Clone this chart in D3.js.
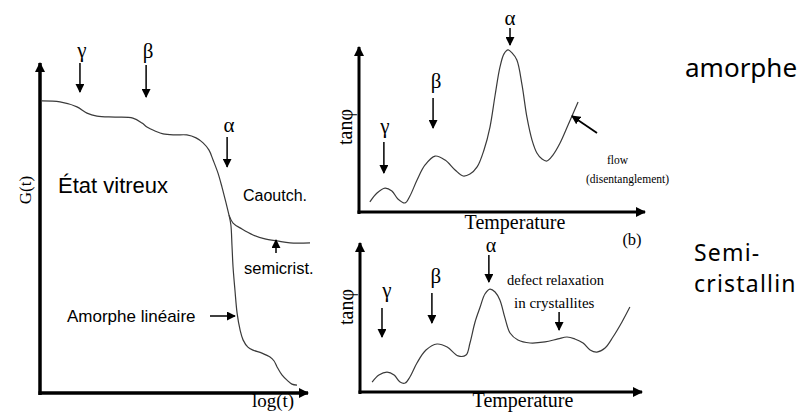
<!DOCTYPE html>
<html><head><meta charset="utf-8">
<script src="https://cdn.jsdelivr.net/npm/d3@7"></script>
<style>
html,body{margin:0;padding:0;background:#fff;}
svg{display:block;}
.sans{font-family:"Liberation Sans",Arial,sans-serif;}
.serif{font-family:"Liberation Serif","Times New Roman",serif;}
.comic{font-family:"Comic Sans MS","Noto Sans",sans-serif;}
</style></head>
<body>
<svg id="c" width="804" height="412"></svg>
<script>
// ---------- DATA (arbitrary units 0..100) ----------
// Left panel: G(t) vs log(t)
const glassyLogT   = [0.7,7.4,13.7,17.4,21.1,27.8,34.4,37.8,39.6,42.6,45.6,50,54.4,57.8,60.4,62.6,64.1,65.9,67.4,68.9,70];
const glassyG      = [88.5,88.2,86.7,84.8,83.9,83.6,83.3,81.8,80.6,79.4,78.5,78.2,78.2,77.3,75.8,73.6,70.6,66.7,62.4,57.6,53.9];
const semicristLogT = [70,71.5,74.8,78.9,83.3,87.8,92.6,100];
const semicristG    = [53.9,51.5,49.7,47.9,46.7,46.1,45.5,45.5];
const amorpheLogT  = [70,70.7,71.1,71.5,72.2,73,74.1,75.2,77,78.9,82.2,85.2,86.7,87.8,89.6,91.5,93.3,95.2];
const amorpheG     = [53.9,50.9,44.8,38.2,31.2,24.2,19.1,16.1,13.9,13,12.1,10.9,9.7,7.9,5.5,3.9,2.7,2.4];
// Top right panel: tan(phi) vs temperature, amorphous
const amorTemp = [3.8,6.3,9.1,11.5,13.6,16.1,17.8,20.3,23.1,26.6,30.1,33.6,36.4,38.8,41.3,43.7,45.8,47.6,49.3,50.7,52.1,53.5,55.2,57,58.7,60.5,62.2,64,65.7,67.8,70.3,73.1,76.6];
const amorTan  = [6.1,11.5,14.5,12.7,7.9,5.5,9.7,19.4,28.5,33.9,31.5,25.5,21.8,23,27.3,37.6,51.5,70.9,87.9,95.8,98.2,96.4,92.1,77,57.6,43.6,35.8,32.1,30.9,34.5,41.8,52.7,66.7];
// Bottom right panel: tan(phi) vs temperature, semi-crystalline
const semiTemp = [4.3,6.7,9.6,12.1,14.2,16,17.7,20.2,23.4,27.3,30.9,34.8,37.6,39,40.8,42.6,44.3,46.1,47.9,49.6,51.4,53.2,56,60.3,65.6,70.2,73.4,76.2,79.1,81.6,84,86.9,89.7,92.9,95.7];
const semiTan  = [6.7,11.4,13.4,11.4,6.7,6,10.1,19.5,28.2,32.2,30.2,24.2,24.8,32.9,47,57,65.8,69.1,67.1,61.7,49.7,39.6,34.9,32.9,33.6,35.6,36.9,35.6,32.9,28.2,26.8,29.5,36.9,47,57];
// Relaxation labels and where they sit on each x axis
const relaxLabels   = ["γ","β","α"];
const leftRelaxX    = [14.8,39.3,69.3];
const amorRelaxX    = [8.7,25.9,52.8];
const semiRelaxX    = [7.8,25.5,45.7];
const defectX       = [70.6];

// ---------- DRAWING ----------
const svg = d3.select("#c");
const defs = svg.append("defs");
function marker(id, w, h){
  defs.append("marker").attr("id",id).attr("viewBox","0 0 10 10").attr("refX",9).attr("refY",5)
    .attr("markerWidth",w).attr("markerHeight",h).attr("markerUnits","userSpaceOnUse").attr("orient","auto")
    .append("path").attr("d","M0,0L10,5L0,10z").attr("fill","#000");
}
marker("axhead",11,10);
marker("head",9,9);

const line = d3.line().curve(d3.curveCatmullRom.alpha(0.5));
const zip = (xs,ys,sx,sy)=>xs.map((v,i)=>[sx(v),sy(ys[i])]);

function axes(g, sx, sy, w){
  const [x0,x1]=sx.range(), [y0,y1]=sy.range();
  g.append("line").attr("x1",x0).attr("y1",y0+2).attr("x2",x0).attr("y2",y1)
    .attr("stroke","#000").attr("stroke-width",w).attr("marker-end","url(#axhead)");
  g.append("line").attr("x1",x0-1.5).attr("y1",y0).attr("x2",x1).attr("y2",y0)
    .attr("stroke","#000").attr("stroke-width",w).attr("marker-end","url(#axhead)");
}
function arrow(x1,y1,x2,y2,w){
  svg.append("line").attr("x1",x1).attr("y1",y1).attr("x2",x2).attr("y2",y2)
    .attr("stroke","#000").attr("stroke-width",w||1.5).attr("marker-end","url(#head)");
}
function text(t,x,y,cls,size,anchor){
  return svg.append("text").attr("x",x).attr("y",y).attr("class",cls).attr("font-size",size)
    .attr("text-anchor",anchor||"start").attr("fill","#000").text(t);
}
function curve(pts){
  svg.append("path").attr("d",line(pts)).attr("fill","none").attr("stroke","#3a3a3a").attr("stroke-width",1.2);
}

// Left panel
const xL = d3.scaleLinear([0,100],[40,310]);
const yL = d3.scaleLinear([0,100],[393,63]);
axes(svg.append("g"), d3.scaleLinear([0,100],[40,308]), yL, 3.5);
curve(zip(glassyLogT,glassyG,xL,yL));
curve(zip(semicristLogT,semicristG,xL,yL));
curve(zip(amorpheLogT,amorpheG,xL,yL));
const leftTops=[100,99.4,77.6], leftLens=[29,32,30], leftLabY=[57,58,132];
relaxLabels.forEach((l,i)=>{
  const x=xL(leftRelaxX[i]), yt=yL(leftTops[i]);
  text(l,x+2,leftLabY[i],"serif",21,"middle");
  arrow(x,yt,x,yt+leftLens[i]);
});
text("État vitreux",58,193,"sans",22);
text("Caoutch.",243,201,"sans",16);
text("semicrist.",244,274,"sans",16.5);
text("Amorphe linéaire",67,322,"sans",17);
arrow(276,253,276,240,1.5);
arrow(210,316,235,316,1.5);
svg.append("text").attr("class","serif").attr("font-size",17).attr("text-anchor","middle")
  .attr("transform","translate(31,190) rotate(-90)").text("G(t)");
text("log(t)",273,407,"serif",19,"middle");

// Top right panel
const xA = d3.scaleLinear([0,100],[359,645]);
const yA = d3.scaleLinear([0,100],[212,47]);
axes(svg.append("g"), d3.scaleLinear([0,100],[359,645]), yA, 3);
curve(zip(amorTemp,amorTan,xA,yA));
const aTop=[142,98,28], aLen=[31,30,17], aLab=[133,88,25], aLabDx=[1,3,0];
relaxLabels.forEach((l,i)=>{
  const x=xA(amorRelaxX[i]);
  text(l,x+aLabDx[i],aLab[i],"serif",21,"middle");
  arrow(x,aTop[i],x,aTop[i]+aLen[i]);
});
arrow(597,133,572,116,1.8);
text("flow",607,164,"serif",11.5);
text("(disentanglement)",586,183,"serif",11.5);
text("Temperature",515,229,"serif",20,"middle");
text("(b)",632,245,"serif",16.5,"middle");
svg.append("text").attr("class","serif").attr("font-size",20).attr("text-anchor","middle")
  .attr("transform","translate(352,127) rotate(-90)").text("tanφ");

// Bottom right panel
const xS = d3.scaleLinear([0,100],[360,642]);
const yS = d3.scaleLinear([0,100],[392,243]);
axes(svg.append("g"), xS, yS, 3);
curve(zip(semiTemp,semiTan,xS,yS));
const sTop=[308,293,255], sLen=[29,30,27], sLab=[297,283,252], sLabDx=[5,4,2], sLabSize=[21,21,20];
relaxLabels.forEach((l,i)=>{
  const x=xS(semiRelaxX[i]);
  text(l,x+sLabDx[i],sLab[i],"serif",sLabSize[i],"middle");
  arrow(x,sTop[i],x,sTop[i]+sLen[i]);
});
text("defect relaxation",507,285,"serif",14.5);
text("in crystallites",514,308,"serif",15);
{ const x=xS(defectX[0]); arrow(x,312,x,330); }
text("Temperature",523,407,"serif",20,"middle");
svg.append("text").attr("class","serif").attr("font-size",20).attr("text-anchor","middle")
  .attr("transform","translate(353,307) rotate(-90)").text("tanφ");

// Right-side labels
text("amorphe",685,77,"comic",26);
text("Semi-",694,261,"comic",23).attr("letter-spacing",1.2);
text("cristallin",694,292,"comic",23).attr("letter-spacing",1.2);
</script>
</body></html>
